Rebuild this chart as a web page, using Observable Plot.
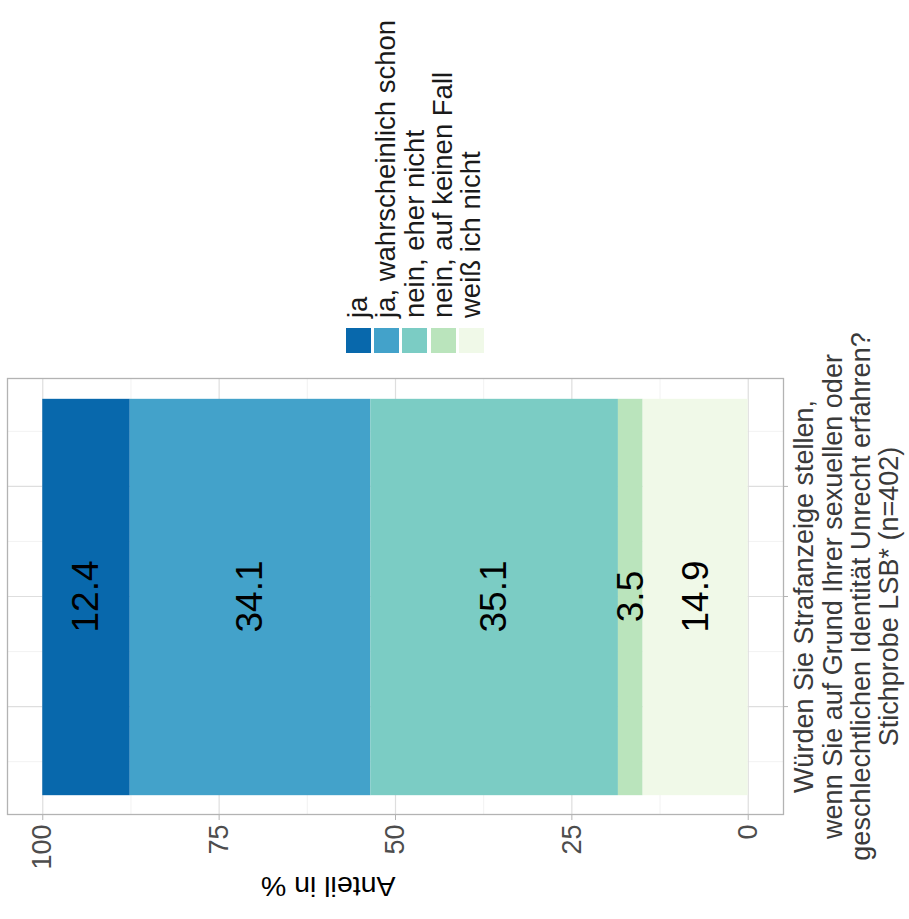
<!DOCTYPE html>
<html>
<head>
<meta charset="utf-8">
<script src="https://cdn.jsdelivr.net/npm/d3@7"></script>
<script src="https://cdn.jsdelivr.net/npm/@observablehq/plot@0.6"></script>
<style>
  html, body { margin: 0; padding: 0; background: #fff; }
  body { width: 909px; height: 919px; overflow: hidden; position: relative; font-family: "Liberation Sans", Arial, sans-serif; }
  #rot { position: absolute; left: 0; top: 0; width: 919px; height: 909px; transform-origin: 0 0; transform: translate(0px, 919px) rotate(-90deg); }
  #chart { position: absolute; left: 0; top: 0; }
  #legend { position: absolute; left: 566px; top: 344px; }
  .lg-row { display: flex; align-items: center; height: 28.3px; }
  .lg-key { width: 25px; height: 25px; flex: none; }
  .lg-txt { margin-left: 10px; font-size: 27.5px; line-height: 28px; color: #1a1a1a; white-space: nowrap; }
</style>
</head>
<body>
<div id="rot">
  <div id="chart"></div>
  <div id="legend"></div>
</div>
<script>
// ---- data ----
const categories = ["ja", "ja, wahrscheinlich schon", "nein, eher nicht", "nein, auf keinen Fall", "weiß ich nicht"];
const values = [12.4, 34.1, 35.1, 3.5, 14.9];
const colors = ["#0868ac", "#43a2ca", "#7bccc4", "#bae4bc", "#f0f9e8"];
const questionLabel = "Würden Sie Strafanzeige stellen,\nwenn Sie auf Grund Ihrer sexuellen oder\ngeschlechtlichen Identität Unrecht erfahren?\nStichprobe LSB* (n=402)";
const axisTitle = "Anteil in %";
const yTicks = [0, 25, 50, 75, 100];
const yMinor = [12.5, 37.5, 62.5, 87.5];
const xTicks = [0.75, 1, 1.25];
const xMinor = [0.625, 0.875, 1.125, 1.375];
const barPos = 1;

// ---- build ----
const rows = categories.map((c, i) => ({category: c, value: values[i], pos: barPos}));
const stackOrder = categories.slice().reverse(); // "ja" on top
const halfWidth = 0.45;
const font = "'Liberation Sans', Arial, sans-serif";

const chart = Plot.plot({
  width: 919,
  height: 909,
  marginLeft: 104,
  marginRight: 379,
  marginTop: 7,
  marginBottom: 126,
  style: {fontFamily: font, background: "white"},
  x: {domain: [0.505, 1.495], label: null},
  y: {domain: [-5, 105], label: null},
  color: {domain: categories, range: colors},
  marks: [
    Plot.ruleY(yMinor, {stroke: "#ececec", strokeWidth: 0.7}),
    Plot.ruleX(xMinor, {stroke: "#ececec", strokeWidth: 0.7}),
    Plot.ruleY(yTicks, {stroke: "#dedede", strokeWidth: 1.2}),
    Plot.ruleX(xTicks, {stroke: "#dedede", strokeWidth: 1.2}),
    Plot.rect(rows, Plot.stackY({
      x1: d => d.pos - halfWidth,
      x2: d => d.pos + halfWidth,
      y: "value",
      fill: "category",
      order: stackOrder
    })),
    Plot.text(rows, Plot.stackY({
      x: "pos",
      y: "value",
      z: "category",
      order: stackOrder,
      text: d => d.value.toFixed(1),
      fontSize: 37,
      fill: "#000"
    })),
    Plot.frame({stroke: "#b3b3b3", strokeWidth: 1.3}),
    Plot.axisY(yTicks, {
      tickSize: 5, tickPadding: 5, stroke: "#b3b3b3", fill: "#4d4d4d",
      fontSize: 27, label: null, tickFormat: d => String(d)
    }),
    Plot.axisX(xTicks, {
      tickSize: 5, tickPadding: 5, stroke: "#b3b3b3", fill: "#3a3a3a",
      fontSize: 27, lineHeight: 1.04, label: null,
      tickFormat: d => d === barPos ? questionLabel : ""
    }),
    Plot.text([axisTitle], {
      frameAnchor: "left", dx: -72, rotate: -90,
      fontSize: 28.5, fill: "#000"
    })
  ]
});
document.getElementById("chart").appendChild(chart);

// ---- legend ----
const legend = d3.select("#legend");
categories.forEach((c, i) => {
  const row = legend.append("div").attr("class", "lg-row");
  row.append("div").attr("class", "lg-key").style("background", colors[i]);
  row.append("div").attr("class", "lg-txt").text(c);
});
</script>
</body>
</html>
